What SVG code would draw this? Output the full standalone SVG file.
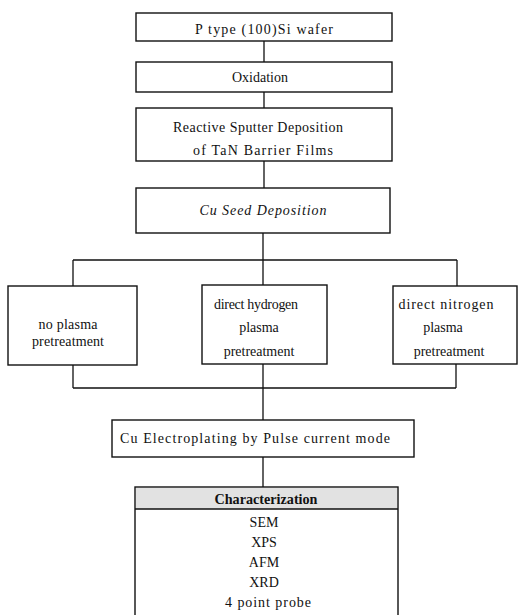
<svg xmlns="http://www.w3.org/2000/svg" width="518" height="615" viewBox="0 0 518 615">
<style>
.b{fill:#fff;stroke:#111;stroke-width:1.4}
.c{fill:none;stroke:#111;stroke-width:1.3}
text{font-family:"Liberation Serif","Times New Roman",serif;font-size:14px;fill:#111;text-anchor:middle}
.i{font-style:italic}
.h{font-weight:bold}
</style>
<rect width="518" height="615" fill="#fff"/>
<g id="connectors">
<path class="c" d="M264 41V62M264 92V108M264 161V188M263 233V260M73 260H457M73 260V286M263 260V285M457 260V286M73 365V388M263 364V388M456 364V388M73 388H456M263 388V420M263 457V487"/>
</g>
<g id="n1"><rect class="b" x="136" y="13" width="256" height="28"/><text x="264" y="34" textLength="138" lengthAdjust="spacing">P type (100)Si wafer</text></g>
<g id="n2"><rect class="b" x="136" y="62" width="256" height="30"/><text x="260" y="82">Oxidation</text></g>
<g id="n3"><rect class="b" x="136" y="108" width="256" height="53"/><text x="258" y="132" textLength="170" lengthAdjust="spacing">Reactive Sputter Deposition</text><text x="263" y="155" textLength="140" lengthAdjust="spacing">of TaN Barrier Films</text></g>
<g id="n4"><rect class="b" x="136" y="188" width="254" height="45"/><text class="i" x="263" y="215" textLength="127" lengthAdjust="spacing">Cu Seed Deposition</text></g>
<g id="n5"><rect class="b" x="8" y="286" width="129" height="79"/><text x="68" y="329" textLength="59" lengthAdjust="spacing">no plasma</text><text x="68" y="346" textLength="72" lengthAdjust="spacing">pretreatment</text></g>
<g id="n6"><rect class="b" x="202" y="285" width="125" height="79"/><text x="256" y="309" textLength="84" lengthAdjust="spacing">direct hydrogen</text><text x="259" y="332">plasma</text><text x="259" y="356">pretreatment</text></g>
<g id="n7"><rect class="b" x="393" y="286" width="124" height="78"/><text x="446" y="309" textLength="95" lengthAdjust="spacing">direct nitrogen</text><text x="443" y="332">plasma</text><text x="449" y="356">pretreatment</text></g>
<g id="n8"><rect class="b" x="112" y="420" width="302" height="37"/><text x="255" y="443" textLength="270" lengthAdjust="spacing">Cu Electroplating by Pulse current mode</text></g>
<g id="n9"><rect class="b" x="135" y="487" width="263" height="140"/><rect x="136" y="488" width="261" height="21" fill="#e2e2e2"/><path class="c" d="M135 509H398"/><text class="h" x="266" y="504" textLength="103" lengthAdjust="spacingAndGlyphs">Characterization</text><text x="264" y="527">SEM</text><text x="264" y="547">XPS</text><text x="264" y="567">AFM</text><text x="264" y="587">XRD</text><text x="268" y="607" textLength="86" lengthAdjust="spacing">4 point probe</text></g>
</svg>
